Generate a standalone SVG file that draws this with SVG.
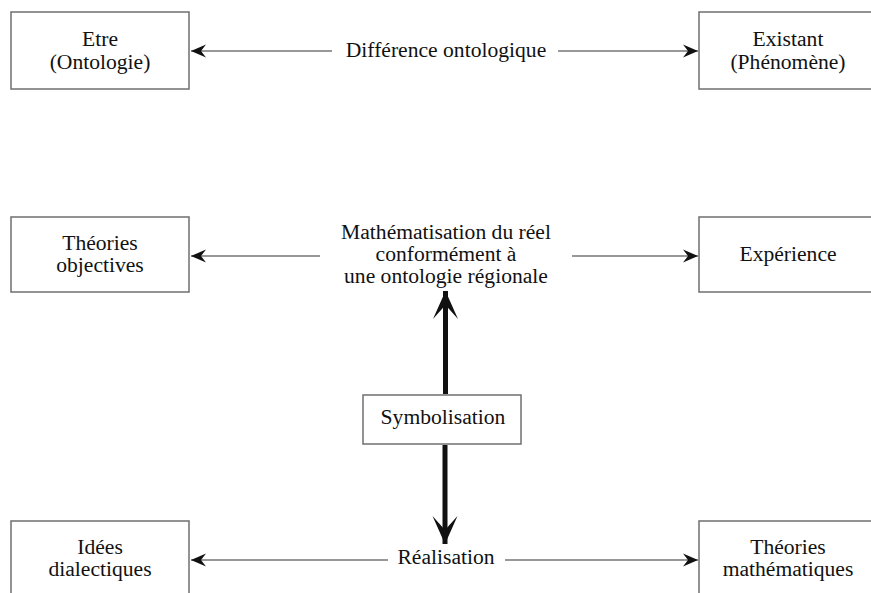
<svg xmlns="http://www.w3.org/2000/svg" width="871" height="593" viewBox="0 0 871 593">
<style>
  .box { fill: #fff; stroke: #6f6f6f; stroke-width: 1.5; }
  .t { font-family: "Liberation Serif", "Times New Roman", serif; font-size: 21.6px; fill: #111; text-anchor: middle; }
  .thin { stroke: #333; stroke-width: 1.2; fill: none; }
  .thick { stroke: #111; stroke-width: 5; fill: none; }
</style>
<defs>
  <marker id="ah" markerUnits="userSpaceOnUse" markerWidth="20" markerHeight="16" viewBox="-16 -8 20 16" refX="0" refY="0" orient="auto">
    <path d="M0,0 L-15,-6.5 L-10,0 L-15,6.5 Z" fill="#111"/>
  </marker>
  <marker id="ahb" markerUnits="userSpaceOnUse" markerWidth="36" markerHeight="32" viewBox="-32 -16 36 32" refX="0" refY="0" orient="auto">
    <path d="M0,0 L-28,-12.5 L-14,0 L-28,12.5 Z" fill="#111"/>
  </marker>
</defs>
<rect width="871" height="593" fill="#fff"/>

<g id="connectors">
  <line class="thin" x1="332" y1="51" x2="191" y2="51" marker-end="url(#ah)"/>
  <line class="thin" x1="558" y1="51" x2="698" y2="51" marker-end="url(#ah)"/>
  <line class="thin" x1="320" y1="256" x2="191" y2="256" marker-end="url(#ah)"/>
  <line class="thin" x1="572" y1="256" x2="698" y2="256" marker-end="url(#ah)"/>
  <line class="thin" x1="388" y1="560" x2="191" y2="560" marker-end="url(#ah)"/>
  <line class="thin" x1="505" y1="560" x2="698" y2="560" marker-end="url(#ah)"/>
  <line class="thick" x1="445.5" y1="394" x2="445.5" y2="291" marker-end="url(#ahb)"/>
  <line class="thick" x1="445" y1="445" x2="445" y2="544" marker-end="url(#ahb)"/>
</g>

<g id="etre">
  <rect class="box" x="11" y="12" width="178" height="77"/>
  <text class="t" x="100" y="46">Etre</text>
  <text class="t" x="100" y="69">(Ontologie)</text>
</g>
<g id="difference">
  <text class="t" x="446" y="57">Différence ontologique</text>
</g>
<g id="existant">
  <rect class="box" x="699" y="12" width="178" height="77"/>
  <text class="t" x="788" y="46">Existant</text>
  <text class="t" x="788" y="69">(Phénomène)</text>
</g>

<g id="theories-objectives">
  <rect class="box" x="11" y="217" width="178" height="75"/>
  <text class="t" x="100" y="250">Théories</text>
  <text class="t" x="100" y="272">objectives</text>
</g>
<g id="mathematisation">
  <text class="t" x="446" y="239">Mathématisation du réel</text>
  <text class="t" x="446" y="261">conformément à</text>
  <text class="t" x="446" y="283">une ontologie régionale</text>
</g>
<g id="experience">
  <rect class="box" x="699" y="217" width="178" height="75"/>
  <text class="t" x="788" y="261">Expérience</text>
</g>

<g id="symbolisation">
  <rect class="box" x="363" y="395" width="158" height="49"/>
  <text class="t" x="443" y="424">Symbolisation</text>
</g>

<g id="idees">
  <rect class="box" x="11" y="521" width="178" height="80"/>
  <text class="t" x="100" y="554">Idées</text>
  <text class="t" x="100" y="576">dialectiques</text>
</g>
<g id="realisation">
  <text class="t" x="446" y="564">Réalisation</text>
</g>
<g id="theories-mathematiques">
  <rect class="box" x="699" y="521" width="178" height="80"/>
  <text class="t" x="788" y="554">Théories</text>
  <text class="t" x="788" y="576">mathématiques</text>
</g>
</svg>
